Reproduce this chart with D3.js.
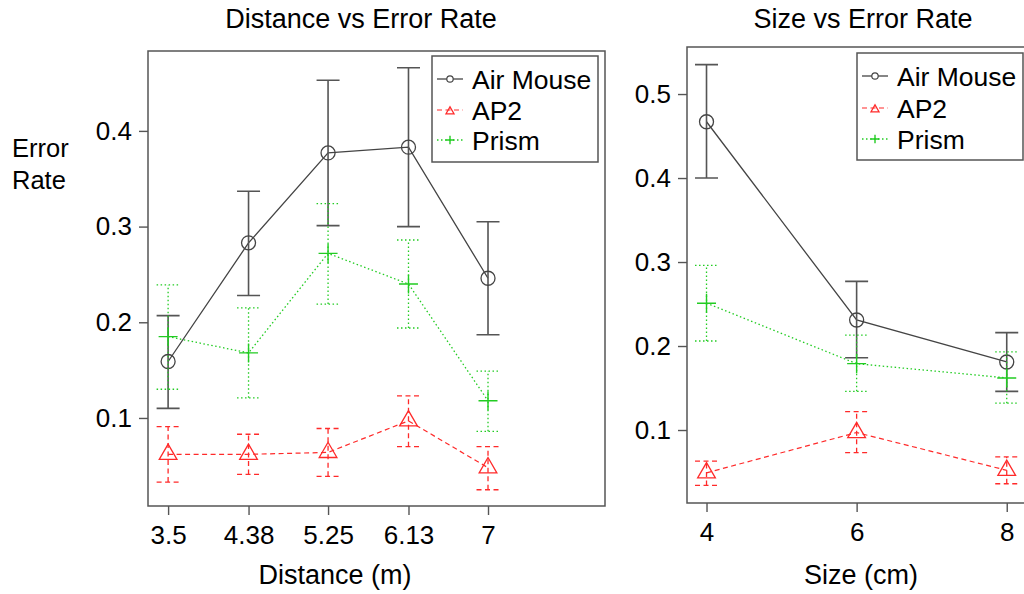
<!DOCTYPE html>
<html>
<head>
<meta charset="utf-8">
<script src="https://cdn.jsdelivr.net/npm/d3@7/dist/d3.min.js"></script>
<style>
  html, body { margin: 0; padding: 0; background: #fff; }
  svg text { font-family: "Liberation Sans", Arial, sans-serif; fill: #000; }
</style>
</head>
<body>
<svg id="chart"></svg>
<script>
const WIDTH = 1024;
const HEIGHT = 594;

// categories
const distances = [3.5, 4.38, 5.25, 6.13, 7];
const sizes = [4, 6, 8];
const seriesNames = ['Air Mouse', 'AP2', 'Prism'];

// distance panel: mean, lower and upper end of error bar
const distAirMouse = [0.159, 0.283, 0.377, 0.383, 0.246];
const distAirMouseLo = [0.110, 0.228, 0.301, 0.300, 0.187];
const distAirMouseHi = [0.207, 0.337, 0.453, 0.466, 0.305];
const distAP2 = [0.062, 0.062, 0.064, 0.097, 0.048];
const distAP2Lo = [0.033, 0.041, 0.039, 0.070, 0.025];
const distAP2Hi = [0.091, 0.083, 0.089, 0.123, 0.070];
const distPrism = [0.185, 0.168, 0.272, 0.240, 0.118];
const distPrismLo = [0.130, 0.121, 0.219, 0.194, 0.086];
const distPrismHi = [0.239, 0.215, 0.324, 0.286, 0.149];

// size panel
const sizeAirMouse = [0.467, 0.231, 0.181];
const sizeAirMouseLo = [0.400, 0.186, 0.146];
const sizeAirMouseHi = [0.535, 0.277, 0.216];
const sizeAP2 = [0.049, 0.097, 0.052];
const sizeAP2Lo = [0.034, 0.073, 0.036];
const sizeAP2Hi = [0.063, 0.122, 0.068];
const sizePrism = [0.251, 0.179, 0.162];
const sizePrismLo = [0.206, 0.146, 0.132];
const sizePrismHi = [0.296, 0.213, 0.193];

const distTicksY = [0.1, 0.2, 0.3, 0.4];
const sizeTicksY = [0.1, 0.2, 0.3, 0.4, 0.5];

// look of each series
const styles = {
    'Air Mouse': { color: '#444', barColor: '#555', dash: null, shape: 'circle', width: 1.3 },
    'AP2': { color: '#ff2a2a', barColor: '#ff2a2a', dash: '5,3.5', shape: 'triangle', width: 1.2 },
    'Prism': { color: '#22cc22', barColor: '#22cc22', dash: '1.5,2.5', shape: 'plus', width: 1.3 }
};

const FONT = 26;

let svg = d3.select('#chart')
    .attr('width', WIDTH)
    .attr('height', HEIGHT);
svg.append('rect').attr('width', WIDTH).attr('height', HEIGHT).attr('fill', '#fff');

function buildSeries(xs, means, los, his){
    return xs.map((x, i) => ({ x: x, y: means[i], lo: los[i], hi: his[i] }));
}

// draw one marker of given shape at (cx, cy), s = scale factor
function drawMarker(g, shape, cx, cy, color, s){
    if(shape === 'circle'){
        g.append('circle')
            .attr('cx', cx).attr('cy', cy).attr('r', 7 * s)
            .attr('fill', 'none').attr('stroke', color).attr('stroke-width', 1.3);
    } else if(shape === 'triangle'){
        const r = 10.2 * s, hw = 8.85 * s;
        g.append('path')
            .attr('d', `M${cx},${cy - r}L${cx + hw},${cy + r / 2}L${cx - hw},${cy + r / 2}Z`)
            .attr('fill', 'none').attr('stroke', color).attr('stroke-width', 1.3);
    } else {
        const h = 9.5 * s;
        g.append('path')
            .attr('d', `M${cx - h},${cy}H${cx + h}M${cx},${cy - h}V${cy + h}`)
            .attr('fill', 'none').attr('stroke', color).attr('stroke-width', 1.4);
    }
}

function drawPanel(opt){
    const x = d3.scaleLinear().domain(opt.xDomain).range([opt.left, opt.right]);
    const y = d3.scaleLinear().domain(opt.yDomain).range([opt.bottom, opt.top]);
    const g = svg.append('g');

    // axes
    const xAxis = g.append('g')
        .attr('transform', `translate(0,${opt.bottom})`)
        .call(d3.axisBottom(x)
            .tickValues(opt.xTicks)
            .tickFormat(d => String(d))
            .tickSize(9)
            .tickPadding(11));
    const yAxis = g.append('g')
        .attr('transform', `translate(${opt.left},0)`)
        .call(d3.axisLeft(y)
            .tickValues(opt.yTicks)
            .tickFormat(d3.format('.1f'))
            .tickSize(9)
            .tickPadding(7));
    for(const ax of [xAxis, yAxis]){
        ax.select('.domain').remove();
        ax.selectAll('.tick line').attr('stroke', '#555').attr('stroke-width', 1.4);
        ax.selectAll('.tick text')
            .attr('font-size', FONT)
            .attr('font-family', '"Liberation Sans", Arial, sans-serif')
            .attr('fill', '#000');
    }

    // series
    const line = d3.line().x(d => x(d.x)).y(d => y(d.y));
    opt.series.forEach((data, k) => {
        const st = styles[seriesNames[k]];
        const sg = g.append('g');
        sg.append('path')
            .datum(data)
            .attr('d', line)
            .attr('fill', 'none')
            .attr('stroke', st.color)
            .attr('stroke-width', st.width)
            .attr('stroke-dasharray', st.dash);
        const bars = sg.selectAll('g.bar').data(data).enter().append('g').attr('class', 'bar');
        bars.append('path')
            .attr('d', d => {
                const cx = x(d.x), cap = 11.5;
                return `M${cx},${y(d.lo)}V${y(d.hi)}` +
                    `M${cx - cap},${y(d.hi)}H${cx + cap}` +
                    `M${cx - cap},${y(d.lo)}H${cx + cap}`;
            })
            .attr('fill', 'none')
            .attr('stroke', st.barColor)
            .attr('stroke-width', k === 0 ? 1.6 : 1.3)
            .attr('stroke-dasharray', st.dash);
        data.forEach(d => drawMarker(sg, st.shape, x(d.x), y(d.y), st.color, 1));
    });

    // frame
    g.append('rect')
        .attr('x', opt.left).attr('y', opt.top)
        .attr('width', opt.right - opt.left).attr('height', opt.bottom - opt.top)
        .attr('fill', 'none').attr('stroke', '#555').attr('stroke-width', 1.5);

    // titles
    g.append('text')
        .attr('x', opt.titleX).attr('y', 28)
        .attr('text-anchor', 'middle')
        .attr('font-size', 27)
        .text(opt.title);
    g.append('text')
        .attr('x', opt.labelX).attr('y', 584)
        .attr('text-anchor', 'middle')
        .attr('font-size', 27)
        .text(opt.xLabel);

    // legend
    const lg = g.append('g');
    const L = opt.legend;
    lg.append('rect')
        .attr('x', L.x).attr('y', L.y).attr('width', L.w).attr('height', L.h)
        .attr('fill', '#fff').attr('stroke', '#555').attr('stroke-width', 1.5);
    seriesNames.forEach((name, k) => {
        const st = styles[name];
        const cy = L.rows[k];
        lg.append('line')
            .attr('x1', L.x + 5).attr('x2', L.x + 31)
            .attr('y1', cy).attr('y2', cy)
            .attr('stroke', st.color).attr('stroke-width', st.width)
            .attr('stroke-dasharray', st.dash);
        const ms = lg.append('g');
        if(st.shape === 'circle'){
            ms.append('circle').attr('cx', L.x + 18).attr('cy', cy).attr('r', 3.2)
                .attr('fill', '#fff').attr('stroke', st.color).attr('stroke-width', 1.2);
        } else {
            drawMarker(ms, st.shape, L.x + 18, cy + (st.shape === 'triangle' ? 1.5 : 0), st.color, 0.45);
        }
        lg.append('text')
            .attr('x', L.x + 40).attr('y', cy)
            .attr('dy', '0.36em')
            .attr('font-size', 26.5)
            .text(name);
    });
}

drawPanel({
    left: 148, right: 605, top: 51, bottom: 506,
    xDomain: [3.28, 8.28], yDomain: [0.008, 0.4835],
    xTicks: distances, yTicks: distTicksY,
    series: [
        buildSeries(distances, distAirMouse, distAirMouseLo, distAirMouseHi),
        buildSeries(distances, distAP2, distAP2Lo, distAP2Hi),
        buildSeries(distances, distPrism, distPrismLo, distPrismHi)
    ],
    title: 'Distance vs Error Rate', titleX: 361,
    xLabel: 'Distance (m)', labelX: 335,
    legend: { x: 432, y: 56, w: 166, h: 106, rows: [79, 110, 140] }
});

drawPanel({
    left: 687, right: 1027, top: 47, bottom: 503,
    xDomain: [3.74, 8.27], yDomain: [0.0131, 0.5560],
    xTicks: sizes, yTicks: sizeTicksY,
    series: [
        buildSeries(sizes, sizeAirMouse, sizeAirMouseLo, sizeAirMouseHi),
        buildSeries(sizes, sizeAP2, sizeAP2Lo, sizeAP2Hi),
        buildSeries(sizes, sizePrism, sizePrismLo, sizePrismHi)
    ],
    title: 'Size vs Error Rate', titleX: 863,
    xLabel: 'Size (cm)', labelX: 861,
    legend: { x: 857, y: 53, w: 166, h: 107, rows: [76, 108, 139] }
});

// shared y label, written on two lines like the original
const yl = svg.append('text')
    .attr('x', 12)
    .attr('font-size', 25.5);
yl.append('tspan').attr('x', 12).attr('y', 157).text('Error');
yl.append('tspan').attr('x', 12).attr('y', 189).text('Rate');
</script>
</body>
</html>
